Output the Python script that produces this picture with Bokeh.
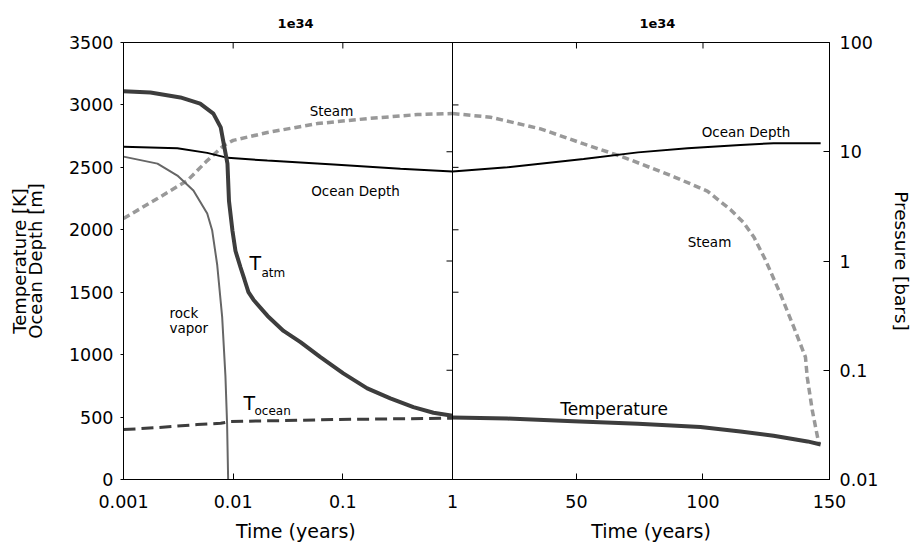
import numpy as np
from bokeh.plotting import figure
from bokeh.models import (Range1d, LinearAxis, LogAxis, LogScale, FixedTicker,
                          Span, Label, Title)
from bokeh.embed import file_html
from bokeh.resources import INLINE

# ---------------- data ----------------
# left panel: log time axis, 0.001 .. 1 yr
t_atm = [0.001, 0.00176, 0.0033, 0.0050, 0.0066, 0.0077, 0.0082, 0.00887, 0.00916,
         0.00986, 0.0105, 0.01166, 0.01269, 0.01378, 0.0153, 0.0206, 0.0288, 0.0411,
         0.0625, 0.101, 0.167, 0.271, 0.44, 0.67, 1.0]
T_atm = [3110, 3100, 3060, 3010, 2930, 2820, 2690, 2530, 2230,
         1990, 1830, 1700, 1600, 1500, 1440, 1310, 1190, 1100,
         980, 850, 730, 650, 580, 535, 510]

t_ocean = [0.001, 0.002, 0.0047, 0.0077, 0.0095, 0.029, 0.082, 0.3, 1.0]
T_ocean = [400, 415, 440, 450, 465, 472, 480, 486, 491]

t_rock = [0.001, 0.00204, 0.0031, 0.00434, 0.0058, 0.00644, 0.00715, 0.00794,
          0.0085, 0.0088, 0.0090]
rock_vapor = [2586, 2530, 2434, 2314, 2130, 1994, 1720, 1300, 830, 450, 0]

t_depth_L = [0.001, 0.0031, 0.0058, 0.0089, 0.0205, 0.0825, 0.335, 1.0]
depth_L = [2666, 2653, 2616, 2576, 2554, 2522, 2488, 2466]

t_steam_L = [0.001, 0.00204, 0.00383, 0.0058, 0.0082, 0.01, 0.0205, 0.0585, 0.167, 0.48, 1.0]
steam_L = [2.45, 3.73, 5.46, 8.3, 11.4, 12.7, 15.0, 18.1, 20.1, 21.9, 22.4]

# right panel: linear time axis, 1 .. 150 yr
t_temp_R = [1, 22.7, 48.8, 74.3, 99, 114.8, 127.9, 141.3, 146.5]
temp_R = [496, 488, 467, 446, 420, 385, 350, 305, 280]

t_depth_R = [1, 22.7, 52.8, 74.3, 93.9, 114.8, 127.9, 146.5]
depth_R = [2466, 2500, 2567, 2620, 2653, 2680, 2693, 2693]

t_steam_R = [1, 16.0, 35.8, 52.9, 68.7, 88.5, 101.7, 110.9, 116.0, 120.1, 124.7, 130.6,
             135.9, 140.5, 141.2, 143.2, 145.8]
steam_R = [22.4, 20.7, 16.2, 11.8, 8.9, 5.9, 4.37, 2.95, 2.25, 1.66, 1.02, 0.50,
           0.248, 0.132, 0.0863, 0.0429, 0.0212]

# ticks and titles
temp_ticks = [0, 500, 1000, 1500, 2000, 2500, 3000, 3500]
p_ticks = [0.01, 0.1, 1, 10, 100]
p_tick_labels = ["0.01", "0.1", "1", "10", "100"]
log_ticks = [0.001, 0.01, 0.1, 1]
log_tick_labels = ["0.001", "0.01", "0.1", "1"]
lin_ticks = [50, 100, 150]
lin_tick_labels = ["50", "100", "150"]
panel_title = "1e34"
x_title = "Time (years)"
y_title_left = "Temperature [K]\nOcean Depth [m]"
y_title_right = "Pressure [bars]"

# ---------------- layout (pixels) ----------------
FL, MID, FR = 123, 452, 829
FT, FB = 42, 479
LEFT_W, RIGHT_W = MID - FL, FR - MID
FW, FH = FR - FL, FB - FT

# linear (right-panel) range extended leftwards so that t=1 sits at the divider
XL0 = 1 - 149 * LEFT_W / RIGHT_W
LOG_END = 10 ** (-3 + 3 * FW / LEFT_W)


def lin_pos(t):
    """position of a log-time value on the shared linear range"""
    return 1 + np.log10(t) * (1 - XL0) / 3


def lx(px):
    return 10 ** (-3 + 3 * (px - FL) / LEFT_W)


def rx(px):
    return 1 + 149 * (px - MID) / RIGHT_W


def ty(py):
    return 3500 * (FB - py) / FH


FONT = "DejaVu Sans"
NB = "\u00a0"

p = figure(x_range=Range1d(XL0, 150), y_range=Range1d(0, 3500),
           extra_x_ranges={"log": Range1d(0.001, LOG_END)},
           extra_x_scales={"log": LogScale()},
           extra_y_ranges={"p": Range1d(0.01, 100)},
           extra_y_scales={"p": LogScale()},
           frame_width=FW, frame_height=FH,
           min_border_left=FL, min_border_right=917 - FR,
           min_border_top=FT, min_border_bottom=547 - FB,
           x_axis_location=None, y_axis_location=None,
           output_backend="svg", toolbar_location=None)
p.grid.visible = False
p.outline_line_color = "black"
p.outline_line_width = 1
p.background_fill_color = "white"
p.border_fill_color = "white"


def style_axis(ax, size="17.5px"):
    ax.axis_line_color = "black"
    ax.major_tick_line_color = "black"
    ax.minor_tick_line_color = None
    ax.major_label_text_font = FONT
    ax.major_label_text_font_size = size
    ax.major_label_text_color = "black"
    ax.axis_label_text_font = FONT
    ax.axis_label_text_font_style = "normal"
    ax.axis_label_text_color = "black"


# bottom axis: log ticks (left) + linear ticks (right); one label per panel
bottom_pos = [lin_pos(t) for t in log_ticks[:-1]] + [1] + lin_ticks
bottom_labels = log_tick_labels + lin_tick_labels
bottom = LinearAxis(ticker=FixedTicker(ticks=bottom_pos),
                    major_label_overrides=dict(zip(bottom_pos, bottom_labels)),
                    major_tick_in=6, major_tick_out=0, major_label_standoff=15,
                    axis_label=x_title + NB * 39 + x_title + NB,
                    axis_label_standoff=9)
style_axis(bottom)
bottom.axis_label_text_font_size = "19px"
p.add_layout(bottom, "below")

left = LinearAxis(ticker=FixedTicker(ticks=temp_ticks), major_tick_in=0, major_tick_out=3,
                  major_label_standoff=7, axis_label=y_title_left,
                  axis_label_standoff=20)
style_axis(left)
left.axis_label_text_font_size = "18px"
left.axis_label_text_line_height = 0.78
p.add_layout(left, "left")

right = LogAxis(y_range_name="p", ticker=FixedTicker(ticks=p_ticks),
                major_label_overrides=dict(zip(p_ticks, p_tick_labels)),
                major_tick_in=6, major_tick_out=0, major_label_standoff=10,
                axis_label=y_title_right, axis_label_standoff=10)
style_axis(right)
right.axis_label_text_font_size = "18.5px"
p.add_layout(right, "right")

p.add_layout(Title(text=panel_title + NB * 72 + panel_title, align="center",
                   text_font=FONT, text_font_size="13px", text_font_style="bold",
                   text_color="black", standoff=24), "above")

# inward top ticks
top_log = log_ticks[1:-1]
top_lin = lin_ticks[:-1]
tick_h = 6 * 3500 / FH
p.segment(x0=top_log, y0=[3500] * len(top_log), x1=top_log, y1=[3500 - tick_h] * len(top_log),
          x_range_name="log", line_color="black", line_width=1)
p.segment(x0=top_lin, y0=[3500] * len(top_lin), x1=top_lin, y1=[3500 - tick_h] * len(top_lin),
          line_color="black", line_width=1)

# divider between the two panels with its mirrored ticks
p.add_layout(Span(location=1, dimension="height", line_color="black", line_width=1))
p.segment(x0=[1] * len(temp_ticks), y0=temp_ticks,
          x1=[1 + 6 * 149 / RIGHT_W] * len(temp_ticks), y1=temp_ticks,
          line_color="black", line_width=1)
p.segment(x0=[1] * len(p_ticks), y0=p_ticks,
          x1=[10 ** (-6 * 3 / LEFT_W)] * len(p_ticks), y1=p_ticks,
          x_range_name="log", y_range_name="p", line_color="black", line_width=1)

# ---------------- curves ----------------
DARK = "#3d3d3d"
p.line(t_steam_L, steam_L, x_range_name="log", y_range_name="p",
       line_color="#999999", line_width=3.5, line_dash="7 4")
p.line(t_steam_R, steam_R, y_range_name="p",
       line_color="#999999", line_width=3.5, line_dash="7 4")
p.line(t_rock, rock_vapor, x_range_name="log", line_color="#666666", line_width=2)
p.line(t_depth_L, depth_L, x_range_name="log", line_color="black", line_width=2)
p.line(t_depth_R, depth_R, line_color="black", line_width=2)
p.line(t_ocean, T_ocean, x_range_name="log", line_color=DARK, line_width=3,
       line_dash="12 6")
p.line(t_atm, T_atm, x_range_name="log", line_color=DARK, line_width=4)
p.line(t_temp_R, temp_R, line_color=DARK, line_width=4)


# ---------------- in-plot texts ----------------
def add_label(text, px, py, size, side="L", align="center"):
    x = lx(px) if side == "L" else rx(px)
    kw = {"x_range_name": "log"} if side == "L" else {}
    p.add_layout(Label(x=x, y=ty(py), text=text, text_font=FONT, text_font_size=size,
                       text_align=align, text_baseline="alphabetic",
                       text_color="black", **kw))


add_label("Steam", 331, 110.5, "13.5px", "L")
add_label("Ocean Depth", 355, 190, "13.5px", "L")
add_label("T", 249, 262, "19px", "L", align="left")
add_label("atm", 261, 272, "12px", "L", align="left")
add_label("rock", 169, 312, "13.5px", "L", align="left")
add_label("vapor", 169, 327, "13.5px", "L", align="left")
add_label("T", 243, 402, "19px", "L", align="left")
add_label("ocean", 254, 410, "12px", "L", align="left")

add_label("Ocean Depth", 745.5, 131, "13.5px", "R")
add_label("Steam", 709, 241, "13.5px", "R")
add_label("Temperature", 613.5, 408, "17px", "R")

open("out.html", "w").write(file_html(p, INLINE))
